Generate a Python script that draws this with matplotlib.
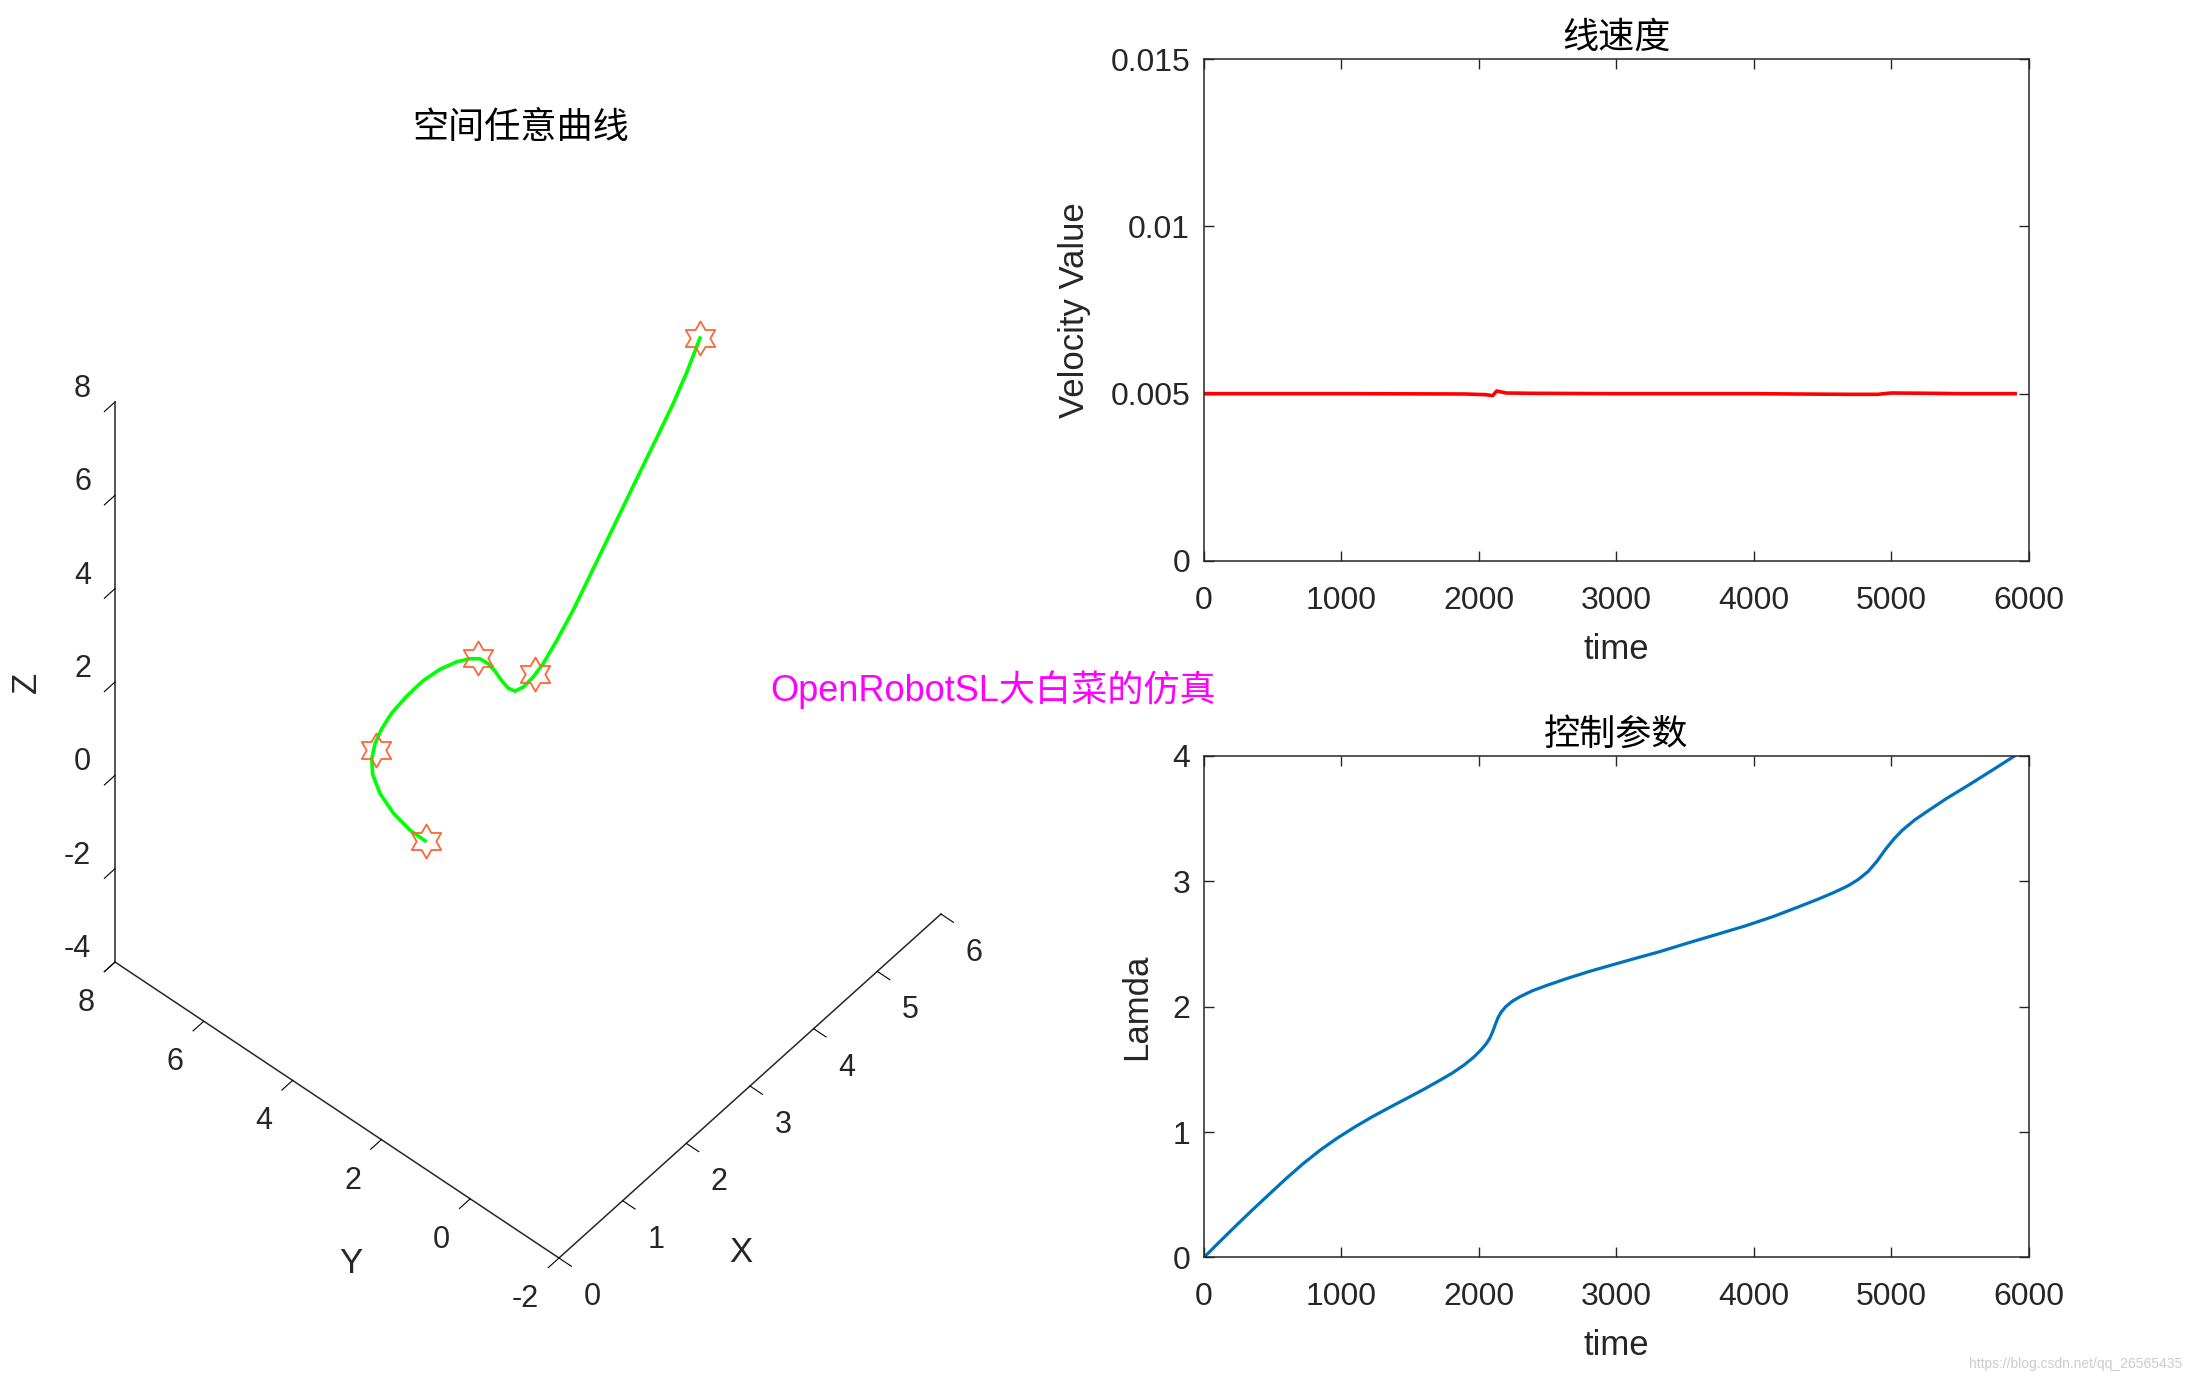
import numpy as np
import matplotlib

matplotlib.use("Agg")

import matplotlib.pyplot as plt
from matplotlib.path import Path
from mpl_toolkits.mplot3d import proj3d

# Space curve, read off the 3D view (depth along the view direction is a guess).
path_x = [0.685, 0.519, 0.326, 0.222, 0.212, 0.301, 0.457, 0.667, 0.929, 1.269,
          1.634, 1.966, 2.298, 2.577, 2.769, 2.934, 3.074, 3.214, 3.318, 3.423,
          3.519, 3.641, 3.763, 3.904, 4.060, 4.218, 4.375, 4.532, 4.689, 4.882,
          5.073, 5.213, 5.353]
path_y = [2.00, 2.10, 2.20, 2.35, 2.50, 2.65, 2.80, 2.95, 3.10, 3.25,
          3.40, 3.50, 3.60, 3.70, 3.75, 3.80, 3.85, 3.90, 3.90, 3.90,
          3.85, 3.80, 3.75, 3.65, 3.50, 3.35, 3.20, 3.05, 2.90, 2.80,
          2.70, 2.60, 2.50]
path_z = [1.56, 1.93, 2.47, 2.92, 3.25, 3.37, 3.41, 3.38, 3.30, 3.15,
          2.94, 2.71, 2.40, 2.06, 1.79, 1.45, 1.09, 0.68, 0.39, 0.20,
          0.20, 0.30, 0.47, 0.85, 1.41, 2.05, 2.69, 3.33, 3.97, 4.53,
          5.10, 5.65, 6.28]

# Waypoints (hexagram markers)
way_x = [0.70, 0.41, 2.74, 3.66, 5.35]
way_y = [2.00, 2.72, 3.75, 3.80, 2.50]
way_z = [1.53, 3.39, 1.85, 0.34, 6.28]

X_TICKS = [0, 1, 2, 3, 4, 5, 6]
Y_TICKS = [-2, 0, 2, 4, 6, 8]
Z_TICKS = [-4, -2, 0, 2, 4, 6, 8]

# Linear velocity
vel_t = [0, 1000, 1900, 2050, 2100, 2130, 2150, 2200, 2400, 3000, 4000,
         4300, 4700, 4900, 5000, 5300, 5500, 5900]
vel_v = [0.005, 0.005, 0.00499, 0.00497, 0.00494, 0.00508, 0.00506, 0.00502,
         0.00501, 0.005, 0.005, 0.00499, 0.00498, 0.00498, 0.00502, 0.00501,
         0.005, 0.005]

# Control parameter lambda
lam_t = [0, 96, 221, 346, 471, 597, 722, 847, 972, 1097, 1223, 1348, 1473,
         1598, 1723, 1806, 1890, 1960, 2015, 2050, 2078, 2100, 2120, 2140,
         2161, 2195, 2245, 2300, 2391, 2500, 2641, 2800, 2975, 3140, 3309,
         3520, 3726, 3940, 4143, 4310, 4477, 4590, 4686, 4760, 4832, 4895,
         4957, 5020, 5082, 5170, 5270, 5400, 5562, 5730, 5896]
lam_v = [0.0, 0.105, 0.240, 0.372, 0.500, 0.628, 0.748, 0.857, 0.953, 1.040,
         1.121, 1.195, 1.267, 1.340, 1.417, 1.470, 1.533, 1.595, 1.655, 1.700,
         1.746, 1.800, 1.860, 1.915, 1.955, 2.000, 2.045, 2.080, 2.128, 2.172,
         2.225, 2.280, 2.335, 2.386, 2.437, 2.508, 2.575, 2.645, 2.720, 2.790,
         2.862, 2.915, 2.965, 3.015, 3.080, 3.160, 3.255, 3.340, 3.410, 3.490,
         3.565, 3.660, 3.768, 3.884, 4.0]

T_TICKS = [0, 1000, 2000, 3000, 4000, 5000, 6000]

INK = "#262626"
CJK = ["Noto Sans CJK SC", "DejaVu Sans"]
plt.rcParams["font.family"] = ["Liberation Sans", "Noto Sans CJK SC", "DejaVu Sans"]
plt.rcParams["axes.unicode_minus"] = False

W, H = 2191, 1379
fig = plt.figure(figsize=(W / 100, H / 100), dpi=100)

# ---------------- 3D panel ----------------
ax3 = fig.add_axes([0.0, 0.05, 0.5, 0.5 * W / H], projection="3d",
                   proj_type="ortho")
ax3.patch.set_visible(False)
ax3.view_init(elev=50.79, azim=-139.29)
ax3.set_box_aspect((1, 1, 1.5128))
ax3.plot(path_x, path_y, path_z, color="#00ff00", lw=2.6)
hexagram = Path.unit_regular_star(6, 0.577)
ax3.plot(way_x, way_y, way_z, ls="none", marker=hexagram, ms=24.5,
         mfc="none", mec="#ff6633", mew=1.3)
ax3.set_xlim(0, 6)
ax3.set_ylim(-2, 8)
ax3.set_zlim(-4, 8)
ax3.set_xticks(X_TICKS)
ax3.set_yticks(Y_TICKS)
ax3.set_zticks(Z_TICKS)
ax3.set_xticklabels([])
ax3.set_yticklabels([])
ax3.set_zticklabels([])
ax3.grid(False)
for axis in (ax3.xaxis, ax3.yaxis, ax3.zaxis):
    axis.set_pane_color((1, 1, 1, 0))
    axis.pane.set_edgecolor((1, 1, 1, 0))
    axis.line.set_color(INK)
    axis.line.set_linewidth(1.1)
    axis._axinfo["tick"]["inward_factor"] = 0.35
    axis._axinfo["tick"]["outward_factor"] = 0.0
    axis._axinfo["tick"]["color"] = INK


def project(pts):
    pts = np.asarray(pts, float)
    xs, ys, _ = proj3d.proj_transform(pts[:, 0], pts[:, 1], pts[:, 2],
                                      ax3.get_proj())
    return ax3.transData.transform(np.column_stack([xs, ys]))


# Align the projected box with the reference: fit scale + offset of the axes
fig.canvas.draw()
corners = [[0, -2, -4], [0, 8, 8], [0, 8, -4], [6, -2, -4]]
targets = np.array([[559, H - 1258], [115, H - 402], [115, H - 962],
                    [941, H - 914]], float)
disp = project(corners)
bb = ax3.bbox
c0 = np.array([(bb.x0 + bb.x1) / 2, (bb.y0 + bb.y1) / 2])
f = (disp - c0) / bb.width
fm, tm = f.mean(0), targets.mean(0)
S = ((f - fm) * (targets - tm)).sum() / ((f - fm) ** 2).sum()
c = tm - S * fm
ax3.set_position([(c[0] - S / 2) / W, (c[1] - S / 2) / H, S / W, S / H])
fig.canvas.draw()

# MATLAB-style tick labels and axis labels placed next to the projected ticks
tick_kw = dict(fontsize=22, color=INK, va="center")
for t, (px, py) in zip(Z_TICKS, project([[0, 8, t] for t in Z_TICKS])):
    fig.text((px - 24) / W, (py + 13) / H, f"{t:g}", ha="right", **tick_kw)
for t, (px, py) in zip(Y_TICKS, project([[0, t, -4] for t in Y_TICKS])):
    fig.text((px - 20) / W, (py - 41) / H, f"{t:g}", ha="right", **tick_kw)
for t, (px, py) in zip(X_TICKS, project([[t, -2, -4] for t in X_TICKS])):
    fig.text((px + 33) / W, (py - 39) / H, f"{t:g}", ha="center", **tick_kw)

lab_kw = dict(fontsize=25, color=INK, ha="center", va="center")
(xl, yl, zl) = project([[3, -2, -4], [0, 3, -4], [0, 8, 2]])
fig.text((xl[0] - 9) / W, (xl[1] - 166) / H, "X", **lab_kw)
fig.text((yl[0] + 14) / W, (yl[1] - 153) / H, "Y", **lab_kw)
fig.text((zl[0] - 89) / W, zl[1] / H, "Z", rotation=90, **lab_kw)


# ---------------- 2D panels ----------------
def style_2d(ax):
    ax.tick_params(direction="in", top=True, right=True, length=7, width=1,
                   labelsize=23, colors=INK)
    ax.tick_params(axis="x", pad=18)
    ax.tick_params(axis="y", pad=10)
    for sp in ax.spines.values():
        sp.set_color(INK)
        sp.set_linewidth(1.1)


ax1 = fig.add_axes([0.5495, 0.5932, 0.3765, 0.364])
ax1.plot(vel_t, vel_v, color="red", lw=2.6)
ax1.set_xlim(0, 6000)
ax1.set_ylim(0, 0.015)
ax1.set_xticks(T_TICKS)
ax1.set_yticks([0, 0.005, 0.01, 0.015])
ax1.set_yticklabels(["0", "0.005", "0.01", "0.015"])
style_2d(ax1)
ax1.set_xlabel("time", fontsize=25, color=INK, labelpad=12)
ax1.set_ylabel("Velocity Value", fontsize=25, color=INK, labelpad=14)
ax1.set_title("线速度", fontsize=26, family=CJK, pad=8)

ax2 = fig.add_axes([0.5495, 0.0882, 0.3765, 0.3636])
ax2.plot(lam_t, lam_v, color="#0072bd", lw=2.3)
ax2.set_xlim(0, 6000)
ax2.set_ylim(0, 4)
ax2.set_xticks(T_TICKS)
ax2.set_yticks([0, 1, 2, 3, 4])
style_2d(ax2)
ax2.set_xlabel("time", fontsize=25, color=INK, labelpad=12)
ax2.set_ylabel("Lamda", fontsize=25, color=INK, labelpad=14)
ax2.set_title("控制参数", fontsize=26, family=CJK, pad=8)

# ---------------- figure texts ----------------
fig.text(521 / W, 1 - 128 / H, "空间任意曲线", fontsize=26, family=CJK,
         ha="center", va="center", color="black")
fig.text(770 / W, 1 - 690 / H, "OpenRobotSL大白菜的仿真", fontsize=26,
         family=["Liberation Sans", "Noto Sans CJK SC"], color="#ff00ff",
         ha="left", va="center")
fig.text(2182 / W, 1 - 1364 / H, "https://blog.csdn.net/qq_26565435",
         fontsize=10, color="#cccccc", ha="right", va="center")

fig.savefig("out.png", dpi=100)
